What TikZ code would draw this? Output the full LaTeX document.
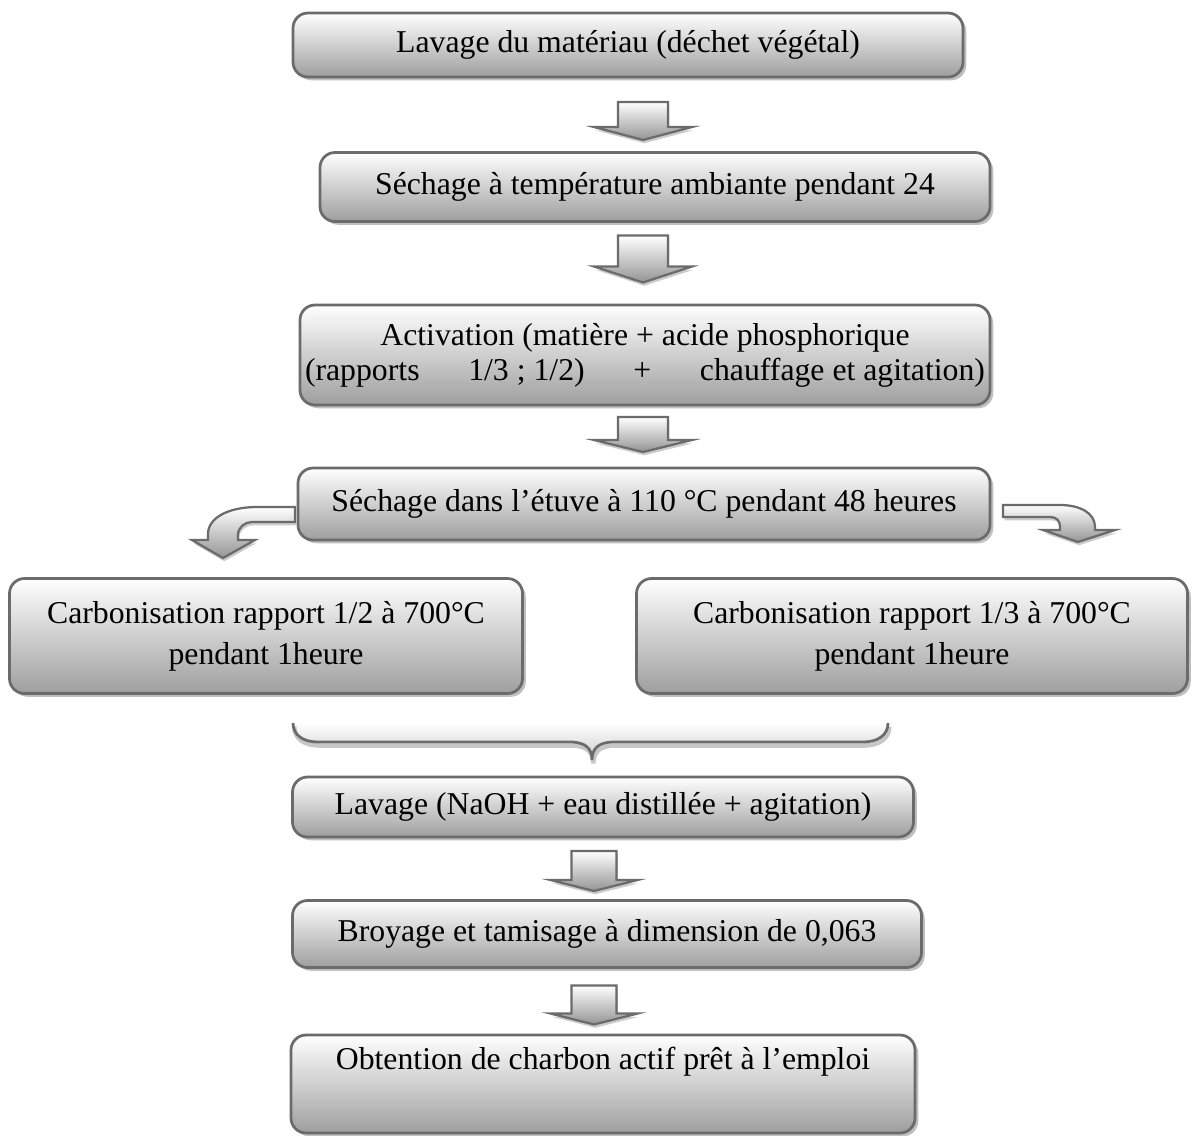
\documentclass[tikz,border=0pt]{standalone}
\usepackage{fontspec}
\setmainfont{Liberation Serif}
\usetikzlibrary{calc}
\usetikzlibrary{shadows}

\newcommand{\pxu}{0.4pt}

\begin{document}
\begin{tikzpicture}
    [   x = \pxu, y = -\pxu
    ,   box/.style =
        {   draw = black!58, line width = 1.1pt
        ,   rounded corners = 6pt
        ,   top color = white, bottom color = black!38
        ,   drop shadow = {shadow xshift = 1.3pt, shadow yshift = -1.3pt, fill = black!25, opacity = 1}
        ,   align = center, inner sep = 0pt, outer sep = 0pt
        ,   font = \fontsize{12.7pt}{14pt}\selectfont
        }
    ,   blockarrow/.style =
        {   draw = black!58, line width = 0.9pt, line join = miter
        ,   top color = white, bottom color = black!42
        ,   drop shadow = {shadow xshift = 0.5pt, shadow yshift = -1.3pt, fill = black!20, opacity = 1}
        }
    ,   bracefill/.style = {top color = white, bottom color = black!20}
    ,   bracestyle/.style =
        {   draw = black!58, line width = 1.1pt
        ,   preaction = {draw = black!22, line width = 1.8pt, transform canvas = {shift = {(0.5pt,-1.4pt)}}}
        }
    ,   pics/downarrow/.style n args = {4}{code =
        {   \draw[blockarrow] (-#1,0) -- (#1,0) -- (#1,#3) -- (#2,#3) -- (0,#3+#4)
                -- (-#2,#3) -- (-#1,#3) -- cycle;
        }}
    ,   pics/turnleft/.style = {code =
        {   \draw[blockarrow] (0,0) -- (-38,0) .. controls (-67,0) and (-87,11) .. (-87,27)
                -- (-87,33) -- (-103,33) -- (-72,51) -- (-40,33) -- (-57,33) -- (-57,28)
                .. controls (-57,20) and (-50,15) .. (-43,15) -- (0,15) -- cycle;
        }}
    ,   pics/turnright/.style = {code =
        {   \draw[blockarrow] (0,0) -- (57,0) .. controls (77,0) and (92,8) .. (92,22)
                -- (92,25) -- (112,25) -- (75,37) -- (40,25) -- (57,25) -- (57,22)
                .. controls (57,16) and (54,12) .. (47,12) -- (0,12) -- cycle;
        }}
    ]
    \useasboundingbox (0,0) rectangle (1192,1135);

    \node[box, minimum width = 670*\pxu, minimum height = 64*\pxu] (lavage) at (628,45)
        {Lavage du matériau (déchet végétal)};
    \node[box, minimum width = 670*\pxu, minimum height = 69*\pxu] (sechage) at (655,187)
        {Séchage à température ambiante pendant 24};
    \node[box, minimum width = 690*\pxu, minimum height = 100*\pxu] (activation) at (645,355)
        {Activation (matière + acide phosphorique\\
         \makebox[272pt]{(rapports\hfill 1/3 ; 1/2)\hfill +\hfill chauffage et agitation)}};
    \node[box, minimum width = 692*\pxu, minimum height = 72*\pxu] (etuve) at (644,504)
        {Séchage dans l’étuve à 110 °C pendant 48 heures};
    \node[box, minimum width = 513*\pxu, minimum height = 115*\pxu] (carbA) at (266,636)
        {Carbonisation rapport 1/2 à 700°C\\[2.4pt] pendant 1heure};
    \node[box, minimum width = 551*\pxu, minimum height = 115*\pxu] (carbB) at (912,636)
        {Carbonisation rapport 1/3 à 700°C\\[2.4pt] pendant 1heure};
    \node[box, minimum width = 621*\pxu, minimum height = 60*\pxu] (naoh) at (603,807)
        {Lavage (NaOH + eau distillée + agitation)};
    \node[box, minimum width = 629*\pxu, minimum height = 67*\pxu] (broyage) at (607,934)
        {Broyage et tamisage à dimension de 0,063};
    \node[box, minimum width = 624*\pxu, minimum height = 98*\pxu] (obtention) at (603,1084)
        {Obtention de charbon actif prêt à l’emploi\\[2pt] \strut};

    \pic at ($(lavage.south)+(15,25)$) {downarrow={25}{49}{25}{13}};
    \pic at ($(sechage.south)+(-12,14)$) {downarrow={25}{49}{31}{16}};
    \pic at ($(activation.south)+(-2,12)$) {downarrow={25}{49}{23}{12}};
    \pic at ($(etuve.west)+(-3,3)$) {turnleft};
    \pic at ($(etuve.east)+(13,1)$) {turnright};
    \pic at ($(naoh.south)+(-9,14)$) {downarrow={22.5}{43.5}{29}{11}};
    \pic at ($(broyage.south)+(-13,18)$) {downarrow={22.5}{43.5}{28}{11}};

    \coordinate (braceL) at (293,723);
    \coordinate (braceR) at (888,723);
    \coordinate (braceTip) at (592,760);
    \fill[bracefill] (braceL) .. controls (293,735) and (303,742) .. (318,742) -- (570,742)
        .. controls (585,742) and (592,748) .. (braceTip)
        .. controls (592,748) and (599,742) .. (614,742) -- (863,742)
        .. controls (878,742) and (888,735) .. (braceR) -- cycle;
    \draw[bracestyle] (braceL) .. controls (293,735) and (303,742) .. (318,742) -- (570,742)
        .. controls (585,742) and (592,748) .. (braceTip)
        .. controls (592,748) and (599,742) .. (614,742) -- (863,742)
        .. controls (878,742) and (888,735) .. (braceR);
\end{tikzpicture}
\end{document}
